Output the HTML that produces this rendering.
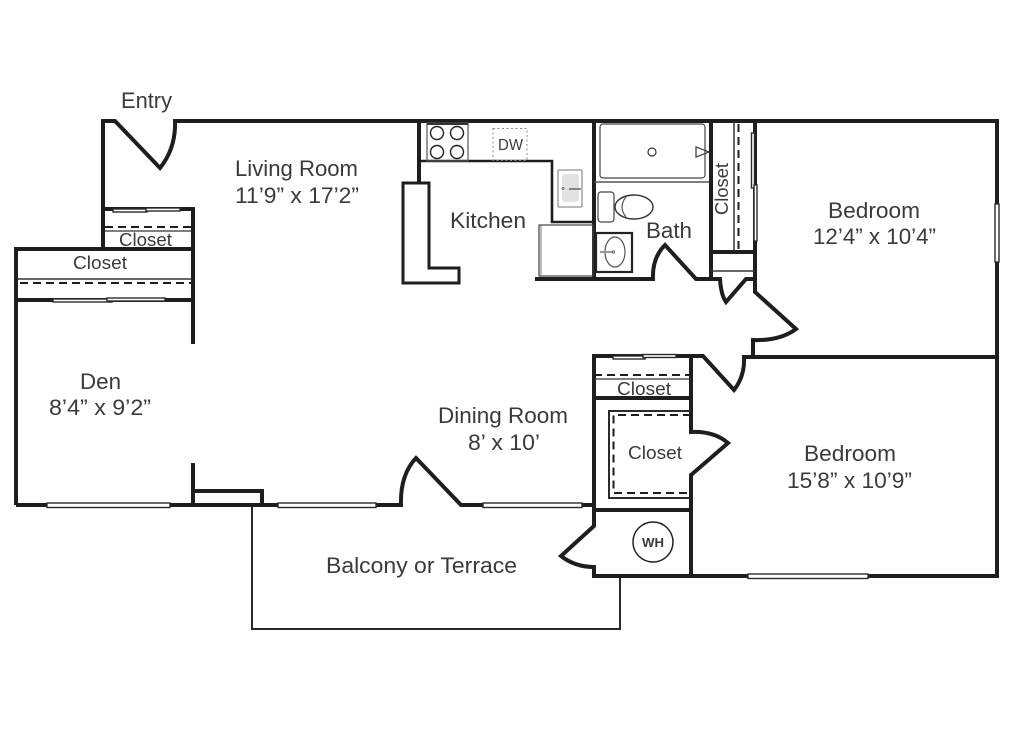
<!DOCTYPE html>
<html>
<head>
<meta charset="utf-8">
<style>
html,body{margin:0;padding:0;background:#fff;width:1024px;height:731px;overflow:hidden}
svg{display:block}
text{font-family:"Liberation Sans",sans-serif;fill:#3a3a3a;font-size:22.5px}
.c{font-size:18.5px}
.w{fill:none;stroke:#1e1e1e;stroke-width:4;stroke-linejoin:miter}
.t{fill:none;stroke:#2a2a2a;stroke-width:2}
.h{fill:none;stroke:#555;stroke-width:1.2}
.d{fill:none;stroke:#1e1e1e;stroke-width:2;stroke-dasharray:8 5}
.win{fill:#fff;stroke:#2a2a2a;stroke-width:1.4}
</style>
</head>
<body>
<svg width="1024" height="731" viewBox="0 0 1024 731" xmlns="http://www.w3.org/2000/svg">
<rect width="1024" height="731" fill="#fff"/>

<!-- balcony -->
<path d="M252 505V629H620V576" class="t"/>

<!-- outer walls and doors -->
<path class="w" d="M103 210V121H115L160 168Q176 148 175 121H997V576H594V567Q575 567 561 556L594 526V510"/>
<path class="w" d="M16 505V249H193"/>
<path class="w" d="M103 249V209H193V344"/>
<path class="w" d="M16 300H193"/>
<path class="w" d="M16 505H401Q400 475 416 458L461 505H594"/>
<path class="w" d="M193 463V505M193 491H262V505"/>

<!-- kitchen -->
<path class="w" d="M419 121V183"/>
<path class="w" d="M594 121V280"/>
<path d="M420 161H552V222H594" fill="none" stroke="#1e1e1e" stroke-width="2.600"/>
<path d="M403 183H429V268H459V283H403Z" fill="none" stroke="#1e1e1e" stroke-width="3"/>
<path class="w" d="M535 279H653Q652 258 665 245L696 279H720Q721 295 726 302L746 279H755"/>
<rect x="427" y="123" width="41" height="38" class="h"/>
<path d="M427 124H468" stroke="#333" stroke-width="2"/>
<circle cx="437" cy="133" r="6.500" fill="none" stroke="#222" stroke-width="1.400"/>
<circle cx="457" cy="133" r="6.500" fill="none" stroke="#222" stroke-width="1.400"/>
<circle cx="437" cy="152" r="6.500" fill="none" stroke="#222" stroke-width="1.400"/>
<circle cx="457" cy="152" r="6.500" fill="none" stroke="#222" stroke-width="1.400"/>
<rect x="493" y="128.500" width="34" height="32" fill="none" stroke="#888" stroke-width="1" stroke-dasharray="2 2.500"/>
<rect x="558" y="170" width="24" height="37" rx="1" fill="#fff" stroke="#777" stroke-width="1"/>
<rect x="562" y="174" width="17" height="28" rx="3" fill="#e2e2e2"/>
<path d="M569 189H581" stroke="#666" stroke-width="1.500"/>
<circle cx="563" cy="188.500" r="1" fill="none" stroke="#555" stroke-width=".8"/>
<rect x="539" y="225" width="54" height="51" fill="none" stroke="#444" stroke-width="1.200"/>
<path d="M541 225V276" stroke="#777" stroke-width="1"/>

<!-- bath -->
<rect x="600" y="124" width="105" height="54" rx="3" class="h" style="stroke:#444"/>
<path d="M594 182H711" stroke="#555" stroke-width="1.400"/>
<circle cx="652" cy="152" r="4" class="h" style="stroke:#333"/>
<path d="M696 147V157L709 152Z" class="h" style="stroke:#333"/>
<rect x="598" y="192" width="16" height="30" rx="3" class="h" style="stroke:#444"/>
<ellipse cx="634" cy="207" rx="19" ry="12" fill="#fff" stroke="#333" stroke-width="1.400"/>
<path d="M626 197Q618 207 626 217" class="h"/>
<rect x="596" y="233" width="36" height="39" fill="none" stroke="#222" stroke-width="2.200"/>
<ellipse cx="615" cy="252" rx="10" ry="15" class="h"/>
<path d="M600 252H613" stroke="#999" stroke-width="2"/>
<circle cx="613.500" cy="252" r="1.200" fill="none" stroke="#555" stroke-width=".8"/>

<!-- bath closet -->
<path class="w" d="M711 121V279M711 252H755"/>
<path class="w" d="M755 121V292L796 329Q780 341 753 340V356"/>
<path d="M734 121V252" stroke="#333" stroke-width="1.500"/>
<path class="d" d="M738.500 124V250"/>
<path d="M711 271H755" stroke="#333" stroke-width="1.500"/>
<rect x="751.500" y="133" width="3" height="55" class="win"/>
<rect x="754" y="185" width="3" height="56" class="win"/>

<!-- right rooms -->
<path class="w" d="M594 510V356H703L734 390Q745 376 744 357H997"/>
<path class="w" d="M691 356V432Q714 431 728 443L691 475V576"/>
<path class="w" d="M594 398H691M594 510H691"/>
<path d="M691 411H609V498H691" class="t"/>
<path d="M691 415H613.500V493H691" class="d"/>
<path class="d" d="M594 375H691"/>
<path d="M594 379H691" stroke="#333" stroke-width="1.200"/>
<circle cx="653" cy="542" r="20" fill="none" stroke="#222" stroke-width="1.500"/>

<!-- upper closets -->
<path class="d" d="M105 227H191"/>
<path d="M105 231H191" stroke="#333" stroke-width="1.300"/>
<path d="M18 279H191" stroke="#333" stroke-width="1.500"/>
<path class="d" d="M20 283H191"/>

<!-- windows -->
<rect x="113" y="209" width="34" height="3" class="win"/>
<rect x="146" y="208" width="34" height="3" class="win"/>
<rect x="53" y="299" width="59" height="3" class="win"/>
<rect x="107" y="298" width="58" height="3" class="win"/>
<rect x="613" y="356" width="32" height="3" class="win"/>
<rect x="643" y="354.500" width="33" height="3" class="win"/>
<rect x="47" y="503" width="123" height="4.500" class="win"/>
<rect x="278" y="503" width="98" height="4.500" class="win"/>
<rect x="483" y="503" width="99" height="4.500" class="win"/>
<rect x="748" y="574" width="120" height="4.500" class="win"/>
<rect x="995" y="204" width="4" height="58" class="win"/>

<!-- labels -->
<text x="121" y="108" textLength="51" lengthAdjust="spacingAndGlyphs">Entry</text>
<text x="235" y="176" textLength="123" lengthAdjust="spacingAndGlyphs">Living Room</text>
<text x="235" y="203" textLength="124" lengthAdjust="spacingAndGlyphs">11’9” x 17’2”</text>
<text x="450" y="228" textLength="76" lengthAdjust="spacingAndGlyphs">Kitchen</text>
<text x="498" y="150" style="font-size:16px" textLength="25" lengthAdjust="spacingAndGlyphs">DW</text>
<text transform="translate(728,215) rotate(-90)" class="c" textLength="52" lengthAdjust="spacingAndGlyphs">Closet</text>
<text x="646" y="238" textLength="46" lengthAdjust="spacingAndGlyphs">Bath</text>
<text x="828" y="218" textLength="92" lengthAdjust="spacingAndGlyphs">Bedroom</text>
<text x="813" y="244" textLength="123" lengthAdjust="spacingAndGlyphs">12’4” x 10’4”</text>
<text x="119" y="246" class="c" textLength="53" lengthAdjust="spacingAndGlyphs">Closet</text>
<text x="73" y="269" class="c" textLength="54" lengthAdjust="spacingAndGlyphs">Closet</text>
<text x="80" y="389" textLength="41" lengthAdjust="spacingAndGlyphs">Den</text>
<text x="49" y="415" textLength="102" lengthAdjust="spacingAndGlyphs">8’4” x 9’2”</text>
<text x="438" y="423" textLength="130" lengthAdjust="spacingAndGlyphs">Dining Room</text>
<text x="468" y="450" textLength="72" lengthAdjust="spacingAndGlyphs">8’ x 10’</text>
<text x="617" y="395" class="c" textLength="54" lengthAdjust="spacingAndGlyphs">Closet</text>
<text x="628" y="459" class="c" textLength="54" lengthAdjust="spacingAndGlyphs">Closet</text>
<text x="804" y="461" textLength="92" lengthAdjust="spacingAndGlyphs">Bedroom</text>
<text x="787" y="488" textLength="125" lengthAdjust="spacingAndGlyphs">15’8” x 10’9”</text>
<text x="642" y="547" style="font-size:12.500px;font-weight:bold" textLength="22" lengthAdjust="spacingAndGlyphs">WH</text>
<text x="326" y="573" textLength="191" lengthAdjust="spacingAndGlyphs">Balcony or Terrace</text>
</svg>
</body>
</html>
